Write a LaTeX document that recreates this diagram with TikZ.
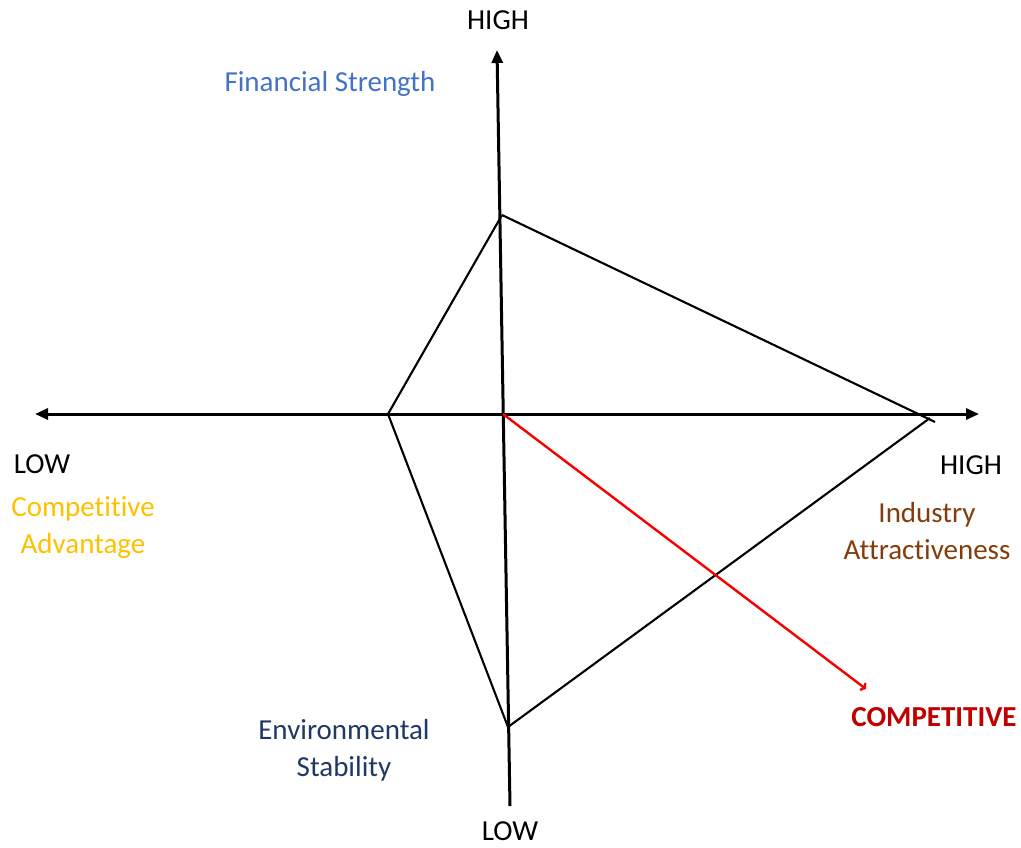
\documentclass[tikz,border=0pt]{standalone}
\usepackage{fontspec}
\setmainfont{Carlito}[Ligatures=NoCommon]
\usetikzlibrary{arrows.meta}
\definecolor{finblue}{HTML}{4472C4}
\definecolor{compgold}{HTML}{FFC000}
\definecolor{indbrown}{HTML}{843C0C}
\definecolor{envnavy}{HTML}{203864}
\definecolor{compred}{HTML}{C00000}
\tikzset{
  axis/.style={line width=3pt},
  edge/.style={line width=2.1pt},
  lbl/.style={font=\fontsize{29}{37}\selectfont, align=center, inner sep=0pt, anchor=base},
}
\begin{document}
\begin{tikzpicture}[x=1pt,y=-1pt]
\useasboundingbox (0,0) rectangle (1021,847);
% axes
\coordinate (vbot) at (510,806);
\coordinate (vtop) at (497,50);
\coordinate (hleft) at (35,414);
\coordinate (hright) at (979,414);
\coordinate (origin) at (503,414);
\draw[axis,-{Triangle[length=13pt,width=11pt]}] (vbot) -- (vtop);
\draw[axis,{Triangle[length=13pt,width=11pt]}-{Triangle[length=13pt,width=11pt]}] (hleft) -- (hright);
% profile polygon
\coordinate (ptop) at (502,215);
\coordinate (pright) at (930,418);
\coordinate (pover) at (935,422);
\coordinate (pbot) at (508,727);
\coordinate (pleft) at (388,414);
\draw[edge] (ptop) -- (pover);
\draw[edge] (pbot) -- (pright);
\draw[edge] (pleft) -- (ptop);
\draw[edge] (pleft) -- (pbot);
% resulting position
\coordinate (pos) at (866,689);
\draw[edge,line width=2.4pt,red!85!compred,-{To[length=5pt,width=10pt]}] (origin) -- (pos);
% labels (two-line nodes sit on the baseline of their last line)
\node[lbl] (hightop) at (498,29) {HIGH};
\node[lbl,text=finblue] (fin) at (330,91) {Financial Strength};
\node[lbl] (lowleft) at (42,473) {LOW};
\node[lbl,text=compgold] (comp) at (83,553) {Competitive\\Advantage};
\node[lbl] (highright) at (971,474) {HIGH};
\node[lbl,text=indbrown] (ind) at (927,559) {Industry\\Attractiveness};
\node[lbl,text=envnavy] (env) at (344,776) {Environmental\\Stability};
\node[lbl,text=compred,font=\fontsize{29}{37}\selectfont\bfseries] (res) at (934,726) {COMPETITIVE};
\node[lbl] (lowbot) at (510,840) {LOW};
\end{tikzpicture}
\end{document}
